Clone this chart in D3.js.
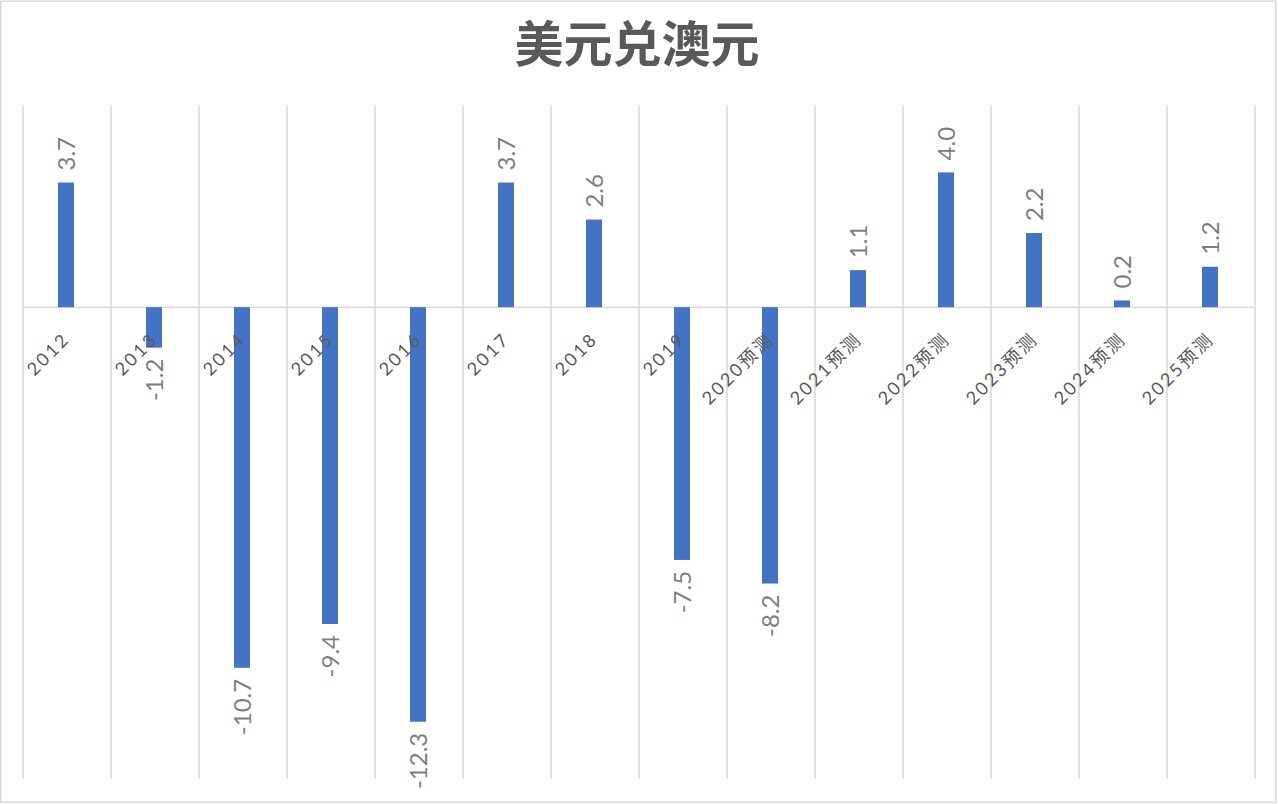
<!DOCTYPE html>
<html>
<head>
<meta charset="utf-8">
<script src="https://cdn.jsdelivr.net/npm/d3@7"></script>
<style>
  html, body { margin: 0; padding: 0; background: #fff; }
  svg { display: block; }
</style>
</head>
<body>
<svg id="chart" width="1278" height="804"></svg>
<script>
const title = "美元兑澳元";
const categories = ["2012","2013","2014","2015","2016","2017","2018","2019","2020预测","2021预测","2022预测","2023预测","2024预测","2025预测"];
const values = [3.7, -1.2, -10.7, -9.4, -12.3, 3.7, 2.6, -7.5, -8.2, 1.1, 4.0, 2.2, 0.2, 1.2];
const yDomain = [-14, 6];

const data = categories.map((c, i) => ({ c, v: values[i] }));

const svg = d3.select("#chart");
const W = 1278, H = 804;
const plot = { left: 23, right: 1255, top: 105, bottom: 779 };
const gridColor = "#d9d9d9";
const barColor = "#4472c4";
const latin = "Lato, 'Noto Sans CJK SC', sans-serif";

svg.append("rect").attr("width", W).attr("height", H).attr("fill", "#fff");
svg.append("rect")
  .attr("x", 0.75).attr("y", 1.25).attr("width", 1275).attr("height", 801)
  .attr("fill", "none").attr("stroke", gridColor).attr("stroke-width", 1.5);

const x = d3.scaleBand().domain(categories).range([plot.left, plot.right]).paddingInner(0).paddingOuter(0);
const y = d3.scaleLinear().domain(yDomain).range([plot.bottom, plot.top]);
const y0 = y(0);
const barW = 16;

// vertical gridlines at category boundaries
const bounds = categories.map(c => x(c)).concat([x(categories[categories.length - 1]) + x.bandwidth()]);
svg.append("g").selectAll("line").data(bounds).join("line")
  .attr("x1", d => d).attr("x2", d => d)
  .attr("y1", plot.top).attr("y2", plot.bottom)
  .attr("stroke", gridColor).attr("stroke-width", 1.5);

// zero axis line
svg.append("line")
  .attr("x1", plot.left).attr("x2", plot.right)
  .attr("y1", y0).attr("y2", y0)
  .attr("stroke", gridColor).attr("stroke-width", 1.5);

// bars
svg.append("g").selectAll("rect").data(data).join("rect")
  .attr("x", d => x(d.c) + x.bandwidth() / 2 - barW / 2 - 1)
  .attr("width", barW)
  .attr("y", d => Math.min(y(d.v), y0))
  .attr("height", d => Math.abs(y(d.v) - y0))
  .attr("fill", barColor);

// value labels (rotated -90)
svg.append("g").selectAll("text").data(data).join("text")
  .attr("transform", d => {
    const cx = x(d.c) + x.bandwidth() / 2 + 8;
    const yy = d.v >= 0 ? y(d.v) - 12 : y(d.v) + 11;
    return `translate(${cx},${yy}) rotate(-90)`;
  })
  .attr("text-anchor", d => d.v >= 0 ? "start" : "end")
  .attr("font-family", latin)
  .attr("font-size", 24)
  .attr("fill", "#7f7f7f")
  .text(d => d.v.toFixed(1));

// category labels (rotated -45)
svg.append("g").selectAll("text").data(data).join("text")
  .attr("transform", d => {
    const cx = x(d.c) + x.bandwidth() / 2 + 4;
    return `translate(${cx},${y0 + 33}) rotate(-45)`;
  })
  .attr("text-anchor", "end")
  .attr("font-family", latin)
  .attr("font-size", 18)
  .attr("letter-spacing", "2.5px")
  .attr("fill", "#595959")
  .text(d => d.c);

// title
svg.append("text")
  .attr("x", 637).attr("y", 62)
  .attr("text-anchor", "middle")
  .attr("font-family", "'Noto Sans CJK SC', sans-serif")
  .attr("font-weight", "bold")
  .attr("font-size", 49)
  .attr("fill", "#595959")
  .text(title);
</script>
</body>
</html>
